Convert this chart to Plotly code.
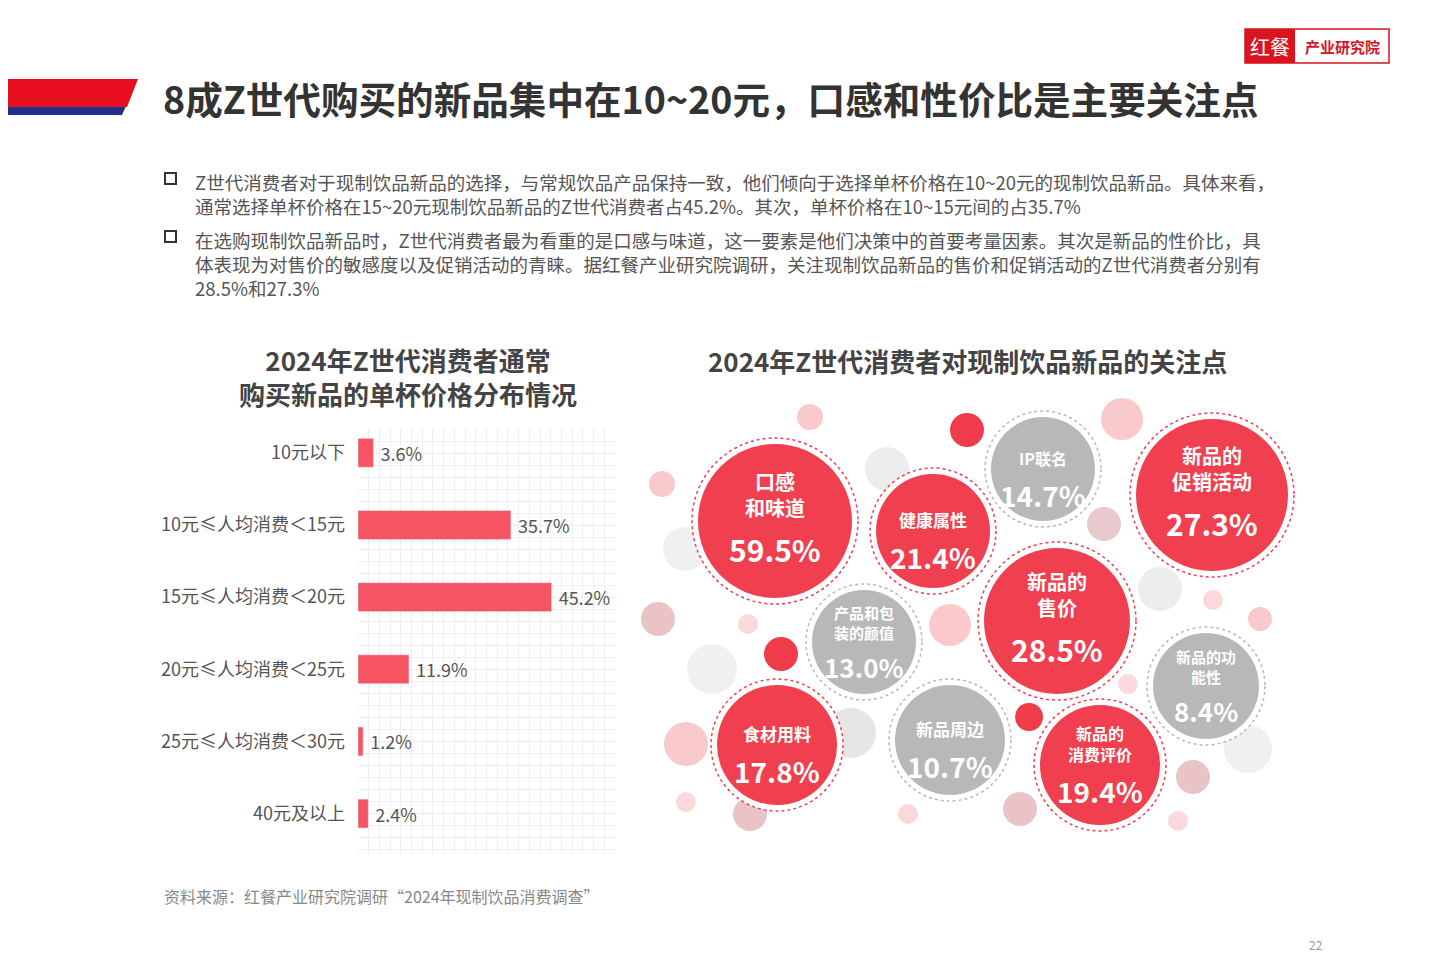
import plotly.graph_objects as go

FONT = "Noto Sans CJK SC"

# ---- bar chart data ----
price_cats = ["10元以下", "10元≤人均消费＜15元", "15元≤人均消费＜20元",
              "20元≤人均消费＜25元", "25元≤人均消费＜30元", "40元及以上"]
price_vals = [3.6, 35.7, 45.2, 11.9, 1.2, 2.4]

# ---- bubble data ----
focus_labels = ["口感<br>和味道", "健康属性", "IP联名", "新品的<br>促销活动", "新品的<br>售价",
                "产品和包<br>装的颜值", "新品的功<br>能性", "食材用料", "新品周边", "新品的<br>消费评价"]
focus_vals = [59.5, 21.4, 14.7, 27.3, 28.5, 13.0, 8.4, 17.8, 10.7, 19.4]
focus_red = [True, True, False, True, True, False, False, True, False, True]
# layout (pixel) positions of bubbles
bub_x = [775, 933, 1043, 1212, 1057, 864, 1206, 777, 950, 1100]
bub_y = [522, 532, 470, 496, 622, 643, 687, 746, 741, 766]
bub_r = [77, 57, 52, 76, 73, 52, 53, 60, 55, 60]
bub_lab_size = [20, 17, 16, 20, 20, 15, 15, 17, 17, 16]
bub_val_size = [30, 28, 28, 30, 30, 26, 26, 28, 28, 28]

# decorative dots: x, y, r, color
deco = [(810, 418, 13, "#f9c9cc"), (967, 431, 17, "#ef3b4a"), (1122, 420, 21, "#f9c9cc"),
        (887, 470, 22, "#ececec"), (662, 485, 13, "#f9c9cc"), (685, 550, 22, "#f0f0f0"),
        (1104, 525, 17, "#e8c9cc"), (1160, 590, 22, "#ececec"), (1213, 601, 10, "#fbd8db"),
        (1260, 620, 12, "#f9c9cc"), (658, 620, 17, "#e9c3c6"), (748, 625, 10, "#fbd8db"),
        (781, 655, 17, "#ef3b4a"), (712, 670, 25, "#f0f0f0"), (950, 626, 21, "#f9c9cc"),
        (1128, 685, 10, "#fbd8db"), (851, 734, 25, "#e5e5e5"), (686, 745, 22, "#f9c9cc"),
        (1029, 718, 14, "#ef3b4a"), (1248, 750, 24, "#f0f0f0"), (1193, 778, 17, "#e9c3c6"),
        (686, 803, 10, "#fbd8db"), (750, 815, 17, "#e9c3c6"), (908, 815, 10, "#fbd8db"),
        (1020, 810, 17, "#e9c3c6"), (1178, 822, 10, "#fbd8db")]

RED = "#f0404f"
GRAY = "#b8b8b8"
OX, OY = 8, 9  # page body offset

def dx(p):
    return (p - OX) / 1440

def dy(p):
    return (960 - (p - OY)) / 960

fig = go.Figure()
fig.add_trace(go.Scatter(x=[0], y=[0], mode="markers", marker=dict(opacity=0),
                         xaxis="x", yaxis="y", showlegend=False, hoverinfo="skip"))

positions = list(range(len(price_cats)))
fig.add_trace(go.Bar(y=positions, x=price_vals, orientation="h", xaxis="x2", yaxis="y2",
                     marker=dict(color="#f65363"), width=0.4,
                     text=[f" {v}%" for v in price_vals], textposition="outside",
                     textfont=dict(size=18, color="#555", family=FONT),
                     cliponaxis=False, showlegend=False))

shapes = []
ann = []
shapes.append(dict(type="path", path="M -10 98 L 130 98 L 122 116 L -10 116 Z", fillcolor="#1f2f8c", line_width=0, xref="x", yref="y"))
shapes.append(dict(type="path", path="M -10 80 L 138 80 L 127 108 L -10 108 Z", fillcolor="#e60e1e", line_width=0, xref="x", yref="y"))
ann.append(dict(x=161, y=98, text="<b>8成Z世代购买的新品集中在10~20元，口感和性价比是主要关注点</b>",
                xanchor="left", yanchor="middle", font=dict(size=37.6, color="#333")))
shapes.append(dict(type="rect", x0=1245, y0=30, x1=1389, y1=64, line=dict(color="#d9141f", width=1.5), fillcolor="white", xref="x", yref="y"))
shapes.append(dict(type="rect", x0=1245, y0=30, x1=1295, y1=64, line_width=0, fillcolor="#d9141f", xref="x", yref="y"))
ann.append(dict(x=1270, y=47, text="红餐", font=dict(size=20, color="white"), xanchor="center", yanchor="middle"))
ann.append(dict(x=1342, y=47, text="<b>产业研究院</b>", font=dict(size=15, color="#d9141f"), xanchor="center", yanchor="middle"))

bullets = [
    (180, "Z世代消费者对于现制饮品新品的选择，与常规饮品产品保持一致，他们倾向于选择单杯价格在10~20元的现制饮品新品。具体来看，<br>通常选择单杯价格在15~20元现制饮品新品的Z世代消费者占45.2%。其次，单杯价格在10~15元间的占35.7%"),
    (238, "在选购现制饮品新品时，Z世代消费者最为看重的是口感与味道，这一要素是他们决策中的首要考量因素。其次是新品的性价比，具<br>体表现为对售价的敏感度以及促销活动的青睐。据红餐产业研究院调研，关注现制饮品新品的售价和促销活动的Z世代消费者分别有<br>28.5%和27.3%"),
]
for y0, t in bullets:
    shapes.append(dict(type="rect", x0=165, y0=y0 - 6, x1=176, y1=y0 + 5, line=dict(color="#333", width=2), xref="x", yref="y"))
    ann.append(dict(x=193, y=y0 - 12, text=t, xanchor="left", yanchor="top", align="left",
                    font=dict(size=18.5, color="#555")))

ann.append(dict(x=408, y=377, text="<b>2024年Z世代消费者通常<br>购买新品的单杯价格分布情况</b>", xanchor="center", yanchor="middle",
                font=dict(size=26, color="#444"), align="center"))
ann.append(dict(x=967, y=361, text="<b>2024年Z世代消费者对现制饮品新品的关注点</b>", xanchor="center", yanchor="middle",
                font=dict(size=26, color="#444")))

for (x, y, r, c) in deco:
    shapes.append(dict(type="circle", x0=x - r, x1=x + r, y0=y - r, y1=y + r, fillcolor=c, line_width=0, xref="x", yref="y"))

for i in range(len(focus_labels)):
    x, y, r = bub_x[i], bub_y[i], bub_r[i]
    c = RED if focus_red[i] else GRAY
    R = r + 6
    shapes.append(dict(type="circle", x0=x - R, x1=x + R, y0=y - R, y1=y + R, fillcolor="white",
                       line=dict(color=c, width=1.5, dash="dot"), xref="x", yref="y"))
    shapes.append(dict(type="circle", x0=x - r, x1=x + r, y0=y - r, y1=y + r, fillcolor=c, line_width=0, xref="x", yref="y"))
    ann.append(dict(x=x, y=y + 3, text=f"<b>{focus_labels[i]}</b>", xanchor="center", yanchor="bottom",
                    font=dict(size=bub_lab_size[i], color="white"), align="center"))
    ann.append(dict(x=x, y=y + 4, text=f"<b>{focus_vals[i]}%</b>", xanchor="center", yanchor="top",
                    font=dict(size=bub_val_size[i], color="white")))

ann.append(dict(x=162, y=897, text="资料来源：红餐产业研究院调研“2024年现制饮品消费调查”", xanchor="left", yanchor="middle",
                font=dict(size=16, color="#888")))
ann.append(dict(x=1316, y=945, text="22", xanchor="center", yanchor="middle", font=dict(size=12, color="#999")))

for a in ann:
    a.update(xref="x", yref="y", showarrow=False)

fig.update_layout(
    width=1440, height=960, margin=dict(l=0, r=0, t=0, b=0),
    paper_bgcolor="white", plot_bgcolor="rgba(0,0,0,0)",
    font=dict(family=FONT),
    xaxis=dict(range=[OX, 1440 + OX], domain=[0, 1], visible=False, fixedrange=True),
    yaxis=dict(range=[960 + OY, OY], domain=[0, 1], visible=False, fixedrange=True),
    xaxis2=dict(range=[0, 60], domain=[dx(358), dx(615)], anchor="y2", showgrid=True, dtick=2.5,
                gridcolor="#eeeeee", gridwidth=1, showticklabels=False, zeroline=False, ticks=""),
    yaxis2=dict(range=[5.56, -0.33], domain=[dy(855), dy(430)], anchor="x2",
                tickvals=positions, ticktext=price_cats, tickfont=dict(size=18, color="#555"),
                showgrid=False, zeroline=False, ticks="", ticklabelstandoff=12,
                minor=dict(dtick=1 / 6, showgrid=True, gridcolor="#eeeeee", tick0=-0.33)),
    shapes=shapes, annotations=ann, showlegend=False,
)
fig.write_html("out.html")
